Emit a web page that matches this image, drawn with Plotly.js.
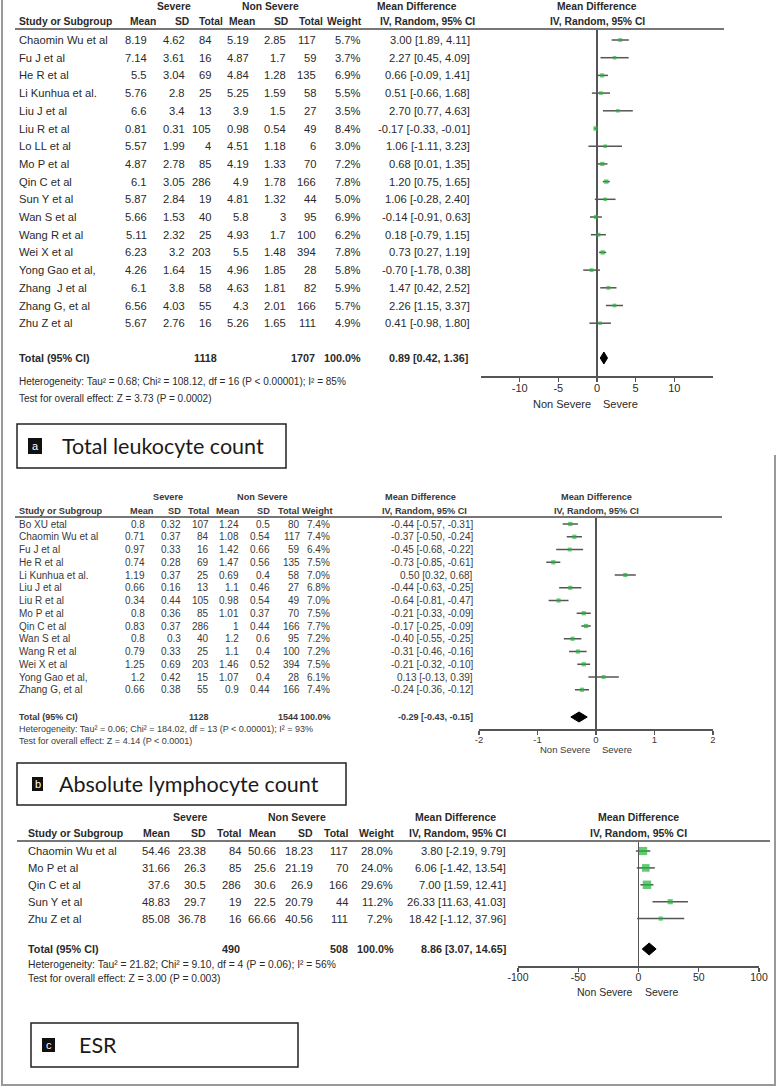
<!DOCTYPE html>
<html><head><meta charset="utf-8">
<script src="https://cdn.plot.ly/plotly-3.0.1.min.js"></script>
<style>html,body{margin:0;padding:0;background:#fff}#chart{width:780px;height:1087px}</style>
</head><body><div id="chart"></div>
<script>
// ---------- Panel a: Total leukocyte count ----------
const studiesA = ["Chaomin Wu et al","Fu J et al","He R et al","Li Kunhua et al.","Liu J et al","Liu R et al","Lo LL et al","Mo P et al","Qin C et al","Sun Y et al","Wan S et al","Wang R et al","Wei X et al","Yong Gao et al,","Zhang  J et al","Zhang G, et al","Zhu Z et al"];
const sevMeanA = ["8.19","7.14","5.5","5.76","6.6","0.81","5.57","4.87","6.1","5.87","5.66","5.11","6.23","4.26","6.1","6.56","5.67"];
const sevSDA = ["4.62","3.61","3.04","2.8","3.4","0.31","1.99","2.78","3.05","2.84","1.53","2.32","3.2","1.64","3.8","4.03","2.76"];
const sevNA = [84,16,69,25,13,105,4,85,286,19,40,25,203,15,58,55,16];
const nonMeanA = ["5.19","4.87","4.84","5.25","3.9","0.98","4.51","4.19","4.9","4.81","5.8","4.93","5.5","4.96","4.63","4.3","5.26"];
const nonSDA = ["2.85","1.7","1.28","1.59","1.5","0.54","1.18","1.33","1.78","1.32","3","1.7","1.48","1.85","1.81","2.01","1.65"];
const nonNA = [117,59,135,58,27,49,6,70,166,44,95,100,394,28,82,166,111];
const weightA = [5.7,3.7,6.9,5.5,3.5,8.4,3.0,7.2,7.8,5.0,6.9,6.2,7.8,5.8,5.9,5.7,4.9];
const mdA = [3.00,2.27,0.66,0.51,2.70,-0.17,1.06,0.68,1.20,1.06,-0.14,0.18,0.73,-0.70,1.47,2.26,0.41];
const loA = [1.89,0.45,-0.09,-0.66,0.77,-0.33,-1.11,0.01,0.75,-0.28,-0.91,-0.79,0.27,-1.78,0.42,1.15,-0.98];
const hiA = [4.11,4.09,1.41,1.68,4.63,-0.01,3.23,1.35,1.65,2.40,0.63,1.15,1.19,0.38,2.52,3.37,1.80];
const totalA = {sev:1118, non:1707, w:"100.0%", md:0.89, lo:0.42, hi:1.36};
const hetA = "Heterogeneity: Tau² = 0.68; Chi² = 108.12, df = 16 (P &lt; 0.00001); I² = 85%";
const testA = "Test for overall effect: Z = 3.73 (P = 0.0002)";
const ticksA = [-10,-5,0,5,10];

// ---------- Panel b: Absolute lymphocyte count ----------
const studiesB = ["Bo XU etal","Chaomin Wu et al","Fu J et al","He R et al","Li Kunhua et al.","Liu J et al","Liu R et al","Mo P et al","Qin C et al","Wan S et al","Wang R et al","Wei X et al","Yong Gao et al,","Zhang G, et al"];
const sevMeanB = ["0.8","0.71","0.97","0.74","1.19","0.66","0.34","0.8","0.83","0.8","0.79","1.25","1.2","0.66"];
const sevSDB = ["0.32","0.37","0.33","0.28","0.37","0.16","0.44","0.36","0.37","0.3","0.33","0.69","0.42","0.38"];
const sevNB = [107,84,16,69,25,13,105,85,286,40,25,203,15,55];
const nonMeanB = ["1.24","1.08","1.42","1.47","0.69","1.1","0.98","1.01","1","1.2","1.1","1.46","1.07","0.9"];
const nonSDB = ["0.5","0.54","0.66","0.56","0.4","0.46","0.54","0.37","0.44","0.6","0.4","0.52","0.4","0.44"];
const nonNB = [80,117,59,135,58,27,49,70,166,95,100,394,28,166];
const weightB = [7.4,7.4,6.4,7.5,7.0,6.8,7.0,7.5,7.7,7.2,7.2,7.5,6.1,7.4];
const mdB = [-0.44,-0.37,-0.45,-0.73,0.50,-0.44,-0.64,-0.21,-0.17,-0.40,-0.31,-0.21,0.13,-0.24];
const loB = [-0.57,-0.50,-0.68,-0.85,0.32,-0.63,-0.81,-0.33,-0.25,-0.55,-0.46,-0.32,-0.13,-0.36];
const hiB = [-0.31,-0.24,-0.22,-0.61,0.68,-0.25,-0.47,-0.09,-0.09,-0.25,-0.16,-0.10,0.39,-0.12];
const totalB = {sev:1128, non:1544, w:"100.0%", md:-0.29, lo:-0.43, hi:-0.15};
const hetB = "Heterogeneity: Tau² = 0.06; Chi² = 184.02, df = 13 (P &lt; 0.00001); I² = 93%";
const testB = "Test for overall effect: Z = 4.14 (P &lt; 0.0001)";
const ticksB = [-2,-1,0,1,2];

// ---------- Panel c: ESR ----------
const studiesC = ["Chaomin Wu et al","Mo P et al","Qin C et al","Sun Y et al","Zhu Z et al"];
const sevMeanC = ["54.46","31.66","37.6","48.83","85.08"];
const sevSDC = ["23.38","26.3","30.5","29.7","36.78"];
const sevNC = [84,85,286,19,16];
const nonMeanC = ["50.66","25.6","30.6","22.5","66.66"];
const nonSDC = ["18.23","21.19","26.9","20.79","40.56"];
const nonNC = [117,70,166,44,111];
const weightC = [28.0,24.0,29.6,11.2,7.2];
const mdC = [3.80,6.06,7.00,26.33,18.42];
const loC = [-2.19,-1.42,1.59,11.63,-1.12];
const hiC = [9.79,13.54,12.41,41.03,37.96];
const totalC = {sev:490, non:508, w:"100.0%", md:8.86, lo:3.07, hi:14.65};
const hetC = "Heterogeneity: Tau² = 21.82; Chi² = 9.10, df = 4 (P = 0.06); I² = 56%";
const testC = "Test for overall effect: Z = 3.00 (P = 0.003)";
const ticksC = [-100,-50,0,50,100];

const panelLabels = ["a","b","c"];
const panelTitles = ["Total leukocyte count","Absolute lymphocyte count","ESR"];

// ---------- rendering ----------
const W=780, H=1087;
const X = p => p/W, Y = p => 1 - p/H;
const ann = [], shapes = [], traces = [], layoutAxes = {};

const ARIAL = "Liberation Sans, Arial, sans-serif";
const TXT = '#2a2a2a';

function A(text, x, y, yref, anchor, font){
  ann.push({text, x:X(x), y:(yref==='paper'?Y(y):y), xref:'paper', yref, xanchor:anchor, yanchor:'middle', showarrow:false, font, align:anchor==='center'?'center':anchor});
}
const f2 = v => v.toFixed(2);
const F = (size, color) => ({family:ARIAL, size, color:color||TXT});

const panels = [
 {sfx:'', studies:studiesA, m1:sevMeanA, s1:sevSDA, n1:sevNA, m2:nonMeanA, s2:nonSDA, n2:nonNA, w:weightA, md:mdA, lo:loA, hi:hiA, tot:totalA, het:hetA, test:testA, ticks:ticksA, range:[-15,15],
  g:{top:29,bottom:376,row0:40,rowH:17.7,total:358,xd:[481,713],hdr1:7,hdr2:22,line:[15,724],het:381,test:398,ns:404,dh:6},
  font:F(11.2), hfont:F(10.3), totFont:F(10.8), smallFont:F(10), tickFont:F(11),
  cols:{study:17,m1:149,s1:187,n1:213,m2:251,s2:288,n2:318,w:363,ci:472},
  tcols:{n1:219,n2:317,w:363,ci:470},
  hc:{sev:174,non:270,md1:417,md2:597,m1:158,s1:191,n1:225,m2:257,s2:290,n2:325,w:364,iv1:427,iv2:597},
  box:{x0:17,x1:286,y0:424,y1:468,sq:[28,42,438,454],tx:60,size:21.5}},
 {sfx:'2', studies:studiesB, m1:sevMeanB, s1:sevSDB, n1:sevNB, m2:nonMeanB, s2:nonSDB, n2:nonNB, w:weightB, md:mdB, lo:loB, hi:hiB, tot:totalB, het:hetB, test:testB, ticks:ticksB, range:[-2,2],
  g:{top:517,bottom:729,row0:524,rowH:12.75,total:717,xd:[479,713],hdr1:497,hdr2:511,line:[15,722],het:729,test:741,ns:749,dh:5},
  font:F(10,'#3a3a3a'), hfont:F(9.2,'#3a3a3a'), totFont:F(9,'#3a3a3a'), smallFont:F(9,'#3a3a3a'), tickFont:F(9.5,'#3a3a3a'),
  cols:{study:17,m1:147,s1:183,n1:211,m2:241,s2:272,n2:302,w:332,ci:475},
  tcols:{n1:211,n2:300,w:333,ci:475},
  hc:{sev:168,non:262,md1:420,md2:596,m1:156,s1:183,n1:211,m2:242,s2:272,n2:301,w:334,iv1:425,iv2:596},
  box:{x0:17,x1:346,y0:763,y1:805,sq:[32,43,777,791],tx:57,size:21.5}},
 {sfx:'3', studies:studiesC, m1:sevMeanC, s1:sevSDC, n1:sevNC, m2:nonMeanC, s2:nonSDC, n2:nonNC, w:weightC, md:mdC, lo:loC, hi:hiC, tot:totalC, het:hetC, test:testC, ticks:ticksC, range:[-100,100],
  g:{top:841,bottom:966,row0:851,rowH:16.9,total:949,xd:[518,759],hdr1:817,hdr2:833,line:[17,770],het:964,test:978,ns:992,dh:6},
  font:F(11.2), hfont:F(10.5), totFont:F(10.8), smallFont:F(10.3), tickFont:F(10.5),
  cols:{study:26,m1:172,s1:208,n1:243,m2:278,s2:315,n2:350,w:395,ci:508},
  tcols:{n1:242,n2:350,w:396,ci:508},
  hc:{sev:190,non:297,md1:455,md2:638,m1:172,s1:208,n1:243,m2:278,s2:315,n2:350,w:396,iv1:457,iv2:638},
  box:{x0:31,x1:298,y0:1023,y1:1067,sq:[42,55,1038,1052],tx:77,size:21.5}}
];

panels.forEach((p, k) => {
  const g = p.g, c = p.cols, h = p.hc, t = p.tcols;
  const yref = 'y' + p.sfx, xref = 'x' + p.sfx;
  const v = px => (px - g.row0) / g.rowH;
  const totV = v(g.total);
  const bf = p.hfont;

  layoutAxes['xaxis' + p.sfx] = {
    domain:[X(g.xd[0]), X(g.xd[1])], range:p.range, tickvals:p.ticks, ticktext:p.ticks.map(String),
    anchor:yref, ticks:'outside', ticklen:4, tickwidth:1.2, tickcolor:'#555', ticklabelstandoff:-3,
    showline:true, linecolor:'#555', linewidth:1.5, showgrid:false,
    zeroline:true, zerolinecolor:'#555', zerolinewidth:1.5, tickfont:p.tickFont, fixedrange:true
  };
  layoutAxes['yaxis' + p.sfx] = {
    domain:[Y(g.bottom), Y(g.top)], range:[v(g.bottom), v(g.top)], visible:false, showgrid:false, zeroline:false, fixedrange:true
  };

  // study CIs and weight boxes
  traces.push({
    type:'scatter', mode:'markers', xaxis:xref, yaxis:yref,
    x:p.md, y:p.studies.map((_, i) => i),
    marker:{symbol:'square', color:'#22b33a', size:p.w.map(w => Math.max(3.5, 1.55*Math.sqrt(w))), line:{width:0}},
    error_x:{type:'data', symmetric:false, array:p.hi.map((hv,i)=>hv-p.md[i]), arrayminus:p.md.map((m,i)=>m-p.lo[i]), color:'#555', thickness:1.5, width:0},
    hoverinfo:'skip', showlegend:false, cliponaxis:false
  });
  // overall diamond
  const dh = g.dh / g.rowH;
  traces.push({
    type:'scatter', mode:'lines', xaxis:xref, yaxis:yref,
    x:[p.tot.lo, p.tot.md, p.tot.hi, p.tot.md, p.tot.lo],
    y:[totV, totV - dh, totV, totV + dh, totV],
    fill:'toself', fillcolor:'#000', line:{color:'#000', width:1}, hoverinfo:'skip', showlegend:false
  });

  // headers
  A('<b>Severe</b>', h.sev, g.hdr1, 'paper', 'center', bf);
  A('<b>Non Severe</b>', h.non, g.hdr1, 'paper', 'center', bf);
  A('<b>Mean Difference</b>', h.md1, g.hdr1, 'paper', 'center', bf);
  A('<b>Mean Difference</b>', h.md2, g.hdr1, 'paper', 'center', bf);
  A('<b>Study or Subgroup</b>', c.study, g.hdr2, 'paper', 'left', bf);
  A('<b>Mean</b>', h.m1, g.hdr2, 'paper', 'right', bf);
  A('<b>SD</b>', h.s1, g.hdr2, 'paper', 'right', bf);
  A('<b>Total</b>', h.n1, g.hdr2, 'paper', 'right', bf);
  A('<b>Mean</b>', h.m2, g.hdr2, 'paper', 'right', bf);
  A('<b>SD</b>', h.s2, g.hdr2, 'paper', 'right', bf);
  A('<b>Total</b>', h.n2, g.hdr2, 'paper', 'right', bf);
  A('<b>Weight</b>', h.w, g.hdr2, 'paper', 'right', bf);
  A('<b>IV, Random, 95% CI</b>', h.iv1, g.hdr2, 'paper', 'center', bf);
  A('<b>IV, Random, 95% CI</b>', h.iv2, g.hdr2, 'paper', 'center', bf);
  shapes.push({type:'line', xref:'paper', yref:'paper', x0:X(g.line[0]), x1:X(g.line[1]), y0:Y(g.top), y1:Y(g.top), line:{color:'#777', width:2}});

  // rows
  p.studies.forEach((s, i) => {
    A(s, c.study, i, yref, 'left', p.font);
    A(p.m1[i], c.m1, i, yref, 'right', p.font);
    A(p.s1[i], c.s1, i, yref, 'right', p.font);
    A(String(p.n1[i]), c.n1, i, yref, 'right', p.font);
    A(p.m2[i], c.m2, i, yref, 'right', p.font);
    A(p.s2[i], c.s2, i, yref, 'right', p.font);
    A(String(p.n2[i]), c.n2, i, yref, 'right', p.font);
    A(p.w[i].toFixed(1) + '%', c.w, i, yref, 'right', p.font);
    A(f2(p.md[i]) + ' [' + f2(p.lo[i]) + ', ' + f2(p.hi[i]) + ']', c.ci, i, yref, 'right', p.font);
  });
  // total row
  const tf = p.totFont;
  A('<b>Total (95% CI)</b>', c.study, totV, yref, 'left', tf);
  A('<b>' + p.tot.sev + '</b>', t.n1, totV, yref, 'right', tf);
  A('<b>' + p.tot.non + '</b>', t.n2, totV, yref, 'right', tf);
  A('<b>' + p.tot.w + '</b>', t.w, totV, yref, 'right', tf);
  A('<b>' + f2(p.tot.md) + ' [' + f2(p.tot.lo) + ', ' + f2(p.tot.hi) + ']</b>', t.ci, totV, yref, 'right', tf);
  A(p.het, c.study, g.het, 'paper', 'left', p.smallFont);
  A(p.test, c.study, g.test, 'paper', 'left', p.smallFont);

  // favours labels
  ann.push({text:'Non Severe', x:0, xref:xref, y:Y(g.ns), yref:'paper', xanchor:'right', yanchor:'middle', xshift:-4, showarrow:false, font:p.tickFont});
  ann.push({text:'Severe', x:0, xref:xref, y:Y(g.ns), yref:'paper', xanchor:'left', yanchor:'middle', xshift:4, showarrow:false, font:p.tickFont});

  // panel label box
  const b = p.box;
  shapes.push({type:'rect', xref:'paper', yref:'paper', x0:X(b.x0), x1:X(b.x1), y0:Y(b.y1), y1:Y(b.y0), line:{color:'#222', width:1.5}, fillcolor:'rgba(0,0,0,0)'});
  shapes.push({type:'rect', xref:'paper', yref:'paper', x0:X(b.sq[0]), x1:X(b.sq[1]), y0:Y(b.sq[3]), y1:Y(b.sq[2]), line:{width:0}, fillcolor:'#111'});
  A(panelLabels[k], (b.sq[0]+b.sq[1])/2, (b.sq[2]+b.sq[3])/2, 'paper', 'center', {family:ARIAL, size:11, color:'#fff'});
  A(panelTitles[k], b.tx, (b.y0+b.y1)/2, 'paper', 'left', {family:'Lato, Open Sans, sans-serif', size:b.size, color:'#1a1a1a'});
});

// outer frame
shapes.push({type:'line', xref:'paper', yref:'paper', x0:X(2), x1:X(2), y0:Y(0), y1:Y(1086), line:{color:'#999', width:2}});
shapes.push({type:'line', xref:'paper', yref:'paper', x0:X(2), x1:X(776), y0:Y(1085), y1:Y(1085), line:{color:'#999', width:2}});
shapes.push({type:'line', xref:'paper', yref:'paper', x0:X(775), x1:X(775), y0:Y(455), y1:Y(1085), line:{color:'#999', width:2}});

const layout = Object.assign({
  width:W, height:H, margin:{l:0,r:0,t:0,b:0}, paper_bgcolor:'#fff', plot_bgcolor:'rgba(0,0,0,0)',
  showlegend:false, annotations:ann, shapes:shapes, hovermode:false
}, layoutAxes);

Plotly.newPlot('chart', traces, layout, {staticPlot:true, displayModeBar:false});
</script></body></html>
